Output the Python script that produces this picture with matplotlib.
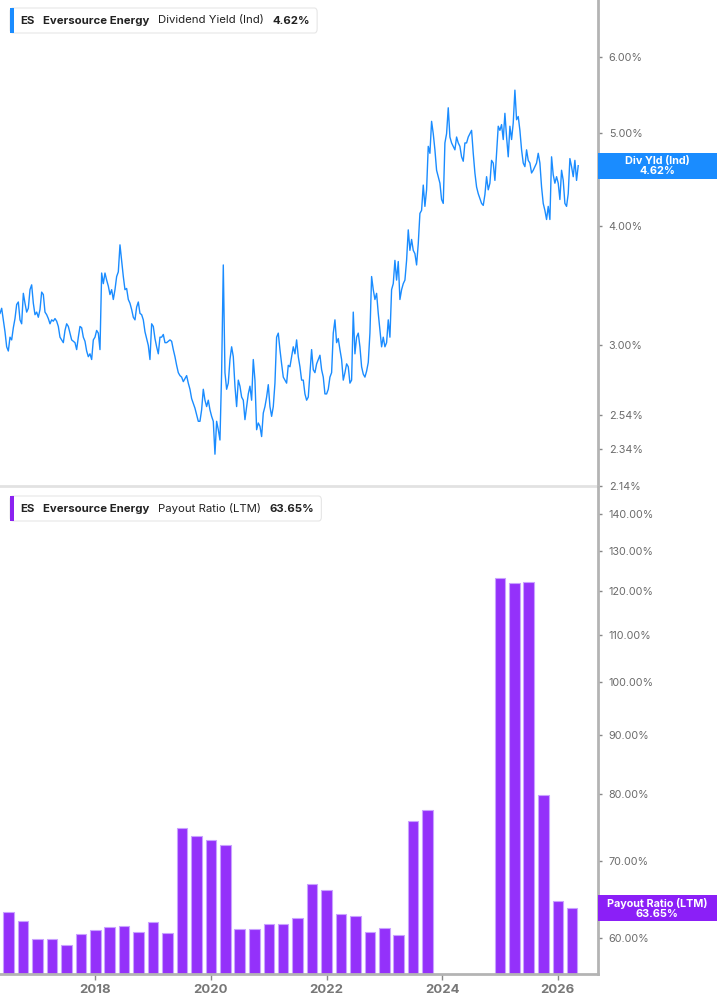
import numpy as np
import pandas as pd
import matplotlib
matplotlib.use("Agg")
import matplotlib.pyplot as plt
from matplotlib.patches import Rectangle, FancyBboxPatch

plt.rcParams['font.family'] = ['Inter', 'DejaVu Sans']

yield_start = "2016-05-08"
yield_step_days = 10.53
div_yield = [
    3.24, 3.28, 3.19, 3.10, 2.99, 2.96, 3.06, 3.04, 3.13, 3.20,
    3.31, 3.33, 3.19, 3.16, 3.40, 3.32, 3.25, 3.28, 3.43, 3.47,
    3.32, 3.23, 3.25, 3.21, 3.27, 3.41, 3.39, 3.25, 3.23, 3.20,
    3.16, 3.19, 3.18, 3.20, 3.18, 3.14, 3.06, 3.04, 3.02, 3.11,
    3.16, 3.14, 3.09, 3.04, 3.03, 3.02, 2.97, 3.06, 3.14, 3.13,
    3.06, 3.03, 2.96, 2.92, 2.94, 2.90, 3.04, 3.06, 3.11, 3.09,
    2.97, 3.57, 3.48, 3.57, 3.51, 3.46, 3.39, 3.43, 3.35, 3.43,
    3.54, 3.58, 3.82, 3.68, 3.54, 3.43, 3.44, 3.35, 3.32, 3.27,
    3.21, 3.19, 3.29, 3.33, 3.24, 3.23, 3.19, 3.10, 3.05, 3.00,
    2.90, 3.16, 3.14, 3.05, 2.99, 2.94, 3.06, 3.06, 3.08, 3.02,
    3.02, 3.03, 3.04, 3.03, 2.97, 2.92, 2.86, 2.81, 2.79, 2.78,
    2.75, 2.77, 2.79, 2.74, 2.70, 2.64, 2.61, 2.58, 2.54, 2.50,
    2.50, 2.57, 2.70, 2.63, 2.59, 2.63, 2.57, 2.53, 2.50, 2.31,
    2.50, 2.45, 2.39, 2.81, 3.64, 2.81, 2.70, 2.74, 2.90, 2.99,
    2.92, 2.72, 2.59, 2.76, 2.72, 2.65, 2.63, 2.51, 2.59, 2.67,
    2.72, 2.63, 2.90, 2.76, 2.45, 2.49, 2.47, 2.41, 2.55, 2.59,
    2.65, 2.73, 2.59, 2.53, 2.59, 2.74, 3.06, 3.09, 2.97, 2.87,
    2.78, 2.76, 2.74, 2.86, 2.85, 2.92, 2.99, 2.94, 3.04, 2.92,
    2.85, 2.76, 2.76, 2.67, 2.63, 2.65, 2.81, 2.97, 2.83, 2.81,
    2.87, 2.90, 2.93, 2.83, 2.78, 2.67, 2.67, 2.70, 2.78, 2.81,
    3.09, 3.19, 3.02, 3.05, 2.97, 2.90, 2.76, 2.81, 2.87, 2.85,
    2.74, 2.76, 3.25, 2.94, 3.06, 3.09, 2.99, 2.85, 2.80, 2.78,
    2.82, 2.88, 3.09, 3.54, 3.43, 3.35, 3.40, 3.24, 3.11, 2.99,
    3.06, 2.99, 3.02, 3.19, 3.06, 3.43, 3.48, 3.68, 3.51, 3.67,
    3.35, 3.43, 3.48, 3.51, 3.68, 3.96, 3.77, 3.87, 3.77, 3.74,
    3.64, 3.83, 4.12, 4.15, 4.41, 4.19, 4.36, 4.84, 4.76, 5.14,
    4.99, 4.80, 4.57, 4.50, 4.43, 4.26, 4.22, 4.88, 4.99, 5.31,
    4.95, 4.88, 4.84, 4.80, 4.95, 4.88, 4.84, 4.72, 4.67, 4.88,
    4.88, 4.95, 4.99, 5.03, 4.76, 4.54, 4.39, 4.32, 4.27, 4.22,
    4.20, 4.31, 4.50, 4.36, 4.43, 4.68, 4.65, 4.46, 4.76, 5.08,
    5.03, 5.10, 4.92, 5.24, 4.95, 4.72, 5.08, 4.92, 5.12, 5.54,
    5.16, 5.20, 5.03, 4.80, 4.65, 4.61, 4.80, 4.68, 4.65, 4.54,
    4.57, 4.61, 4.65, 4.76, 4.65, 4.39, 4.22, 4.15, 4.06, 4.19,
    4.06, 4.72, 4.52, 4.43, 4.50, 4.43, 4.26, 4.57, 4.46, 4.22,
    4.19, 4.32, 4.70, 4.61, 4.50, 4.68, 4.46, 4.62,
]

# Payout ratio (LTM), %, one bar per quarter end (nan = no bar)
first_quarter = "2016Q2"
last_quarter = "2026Q1"
payout = [
    63.2, 62.1, 59.9, 59.9, 59.2, 60.5, 60.9, 61.3, 61.5, 60.7,
    62.0, 60.6, 74.7, 73.6, 73.0, 72.2, 61.1, 61.1, 61.7, 61.7,
    62.5, 66.8, 66.0, 63.0, 62.7, 60.7, 61.2, 60.3, 75.8, 77.5,
    np.nan, np.nan, np.nan, np.nan, 123.1, 121.9, 122.2, 79.9, 64.6, 63.65,
]

yield_ticks = [2.14, 2.34, 2.54, 3.0, 4.0, 5.0, 6.0]
payout_ticks = [60, 70, 80, 90, 100, 110, 120, 130, 140]
year_ticks = [2018, 2020, 2022, 2024, 2026]

blue = "#1a8cff"
purple = "#9431fa"
axis_gray = "#b4b4b4"
label_gray = "#6b6b6b"

yield_dates = pd.Timestamp(yield_start) + pd.to_timedelta(
    np.arange(len(div_yield)) * yield_step_days, unit="D")
quarter_dates = pd.period_range(first_quarter, last_quarter, freq="Q").to_timestamp(how="end")

W, H = 717, 1005
fig = plt.figure(figsize=(W / 100, H / 100), dpi=100)
right_px = 597.7
ax1 = fig.add_axes([0, 1 - 486 / H, right_px / W, 486 / H])
ax2 = fig.add_axes([0, 1 - 974 / H, right_px / W, 488 / H])

x_left = pd.Timestamp("2016-05-08")
x_right = pd.Timestamp("2026-09-10")

# top panel: dividend yield line
ax1.plot(yield_dates, div_yield, color=blue, linewidth=1.0)
ax1.set_yscale("log")
ax1.set_ylim(2.14, 6.88)
ax1.set_xlim(x_left, x_right)

# bottom panel: payout ratio bars, drawn up from below the visible range
base = 50
ax2.bar(quarter_dates, np.array(payout) - base, width=67, bottom=base,
        color=purple, edgecolor="#c9a2ff", linewidth=0.8)
ax2.set_yscale("log")
ax2.set_ylim(55.83, 148)
ax2.set_xlim(x_left, x_right)

for ax, ticks in ((ax1, yield_ticks), (ax2, payout_ticks)):
    ax.yaxis.tick_right()
    ax.set_yticks(ticks)
    ax.set_yticklabels([f"{t:.2f}%" for t in ticks])
    ax.minorticks_off()
    ax.tick_params(axis="y", length=3, width=1, color="#888888",
                   labelsize=7.8, labelcolor=label_gray, pad=5)
    ax.spines["left"].set_visible(False)
    ax.spines["top"].set_visible(False)
    ax.spines["right"].set_color(axis_gray)
    ax.spines["right"].set_linewidth(2)
    ax.set_facecolor("none")

ax1.spines["bottom"].set_color("#e2e2e2")
ax1.spines["bottom"].set_linewidth(2)
ax1.set_xticks([])

ax2.spines["bottom"].set_color(axis_gray)
ax2.spines["bottom"].set_linewidth(2)
ax2.set_xticks([pd.Timestamp(f"{y}-01-01") for y in year_ticks])
ax2.set_xticklabels([str(y) for y in year_ticks])
ax2.tick_params(axis="x", length=4, width=1, color="#888888", labelsize=9.5,
                labelcolor="#777777", pad=3)
for lab in ax2.get_xticklabels():
    lab.set_fontweight("bold")

renderer = fig.canvas.get_renderer()


def px(x, y):
    return x / W, 1 - y / H


def legend_box(y_top, color, metric, value):
    yc = y_top + 12.5
    x = 20.5
    for s, w in (("ES", "bold"), ("Eversource Energy", "bold"),
                 (metric, "normal"), (value, "bold")):
        t = fig.text(*px(x, yc), s, fontsize=8.2, fontweight=w,
                     color="#222222", va="center", ha="left")
        x += t.get_window_extent(renderer).width + 8.5
    x_end = x - 8.5 + 7
    x0, y0 = px(10, y_top + 25)
    fig.add_artist(FancyBboxPatch((x0, y0), (x_end - 10) / W, 25 / H,
                                  boxstyle="round,pad=0,rounding_size=0.004",
                                  transform=fig.transFigure, facecolor="white",
                                  edgecolor="#e6e6e6", linewidth=0.8, zorder=-1))
    fig.add_artist(Rectangle((x0, y0), 4 / W, 25 / H, transform=fig.transFigure,
                             facecolor=color, edgecolor="none"))


legend_box(8, blue, "Dividend Yield (Ind)", "4.62%")
legend_box(496, "#8b22f0", "Payout Ratio (LTM)", "63.65%")


def value_tag(ax, value, color, lines):
    disp = ax.transData.transform((ax.get_xlim()[0], value))
    _, yf = fig.transFigure.inverted().transform(disp)
    h = 26 / H
    fig.add_artist(Rectangle((right_px / W, yf - h / 2), 1 - right_px / W, h,
                             transform=fig.transFigure, facecolor=color,
                             edgecolor="none"))
    fig.text((right_px + 717) / 2 / W, yf, lines, fontsize=7.8, fontweight="bold",
             color="white", ha="center", va="center", linespacing=1.0)


value_tag(ax1, div_yield[-1], blue, "Div Yld (Ind)\n4.62%")
value_tag(ax2, payout[-1], "#8b1ff7", "Payout Ratio (LTM)\n63.65%")

fig.savefig("out.png", dpi=100, facecolor="white")
